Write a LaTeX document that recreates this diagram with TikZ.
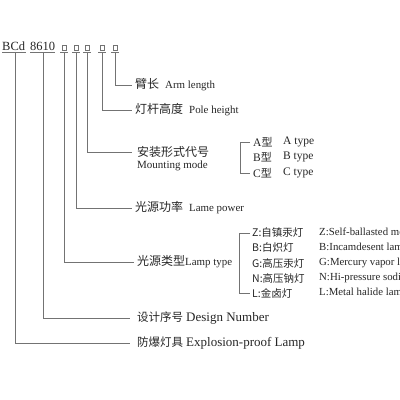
\documentclass[tikz,border=0pt]{standalone}
\usepackage{fontspec}
\setmainfont{Liberation Serif}
\newfontfamily\cjk{Noto Sans CJK SC}
\newcommand{\zh}[2]{{\cjk\fontsize{#1}{#1}\selectfont #2}}
\begin{document}
\begin{tikzpicture}[x=1pt,y=-1pt,
  ln/.style={draw=black!55, line width=0.6pt},
  lbl/.style={anchor=west, inner sep=0pt, text=black!85, font=\fontsize{10.9}{12}\selectfont},
  sq/.style={draw=black!55, line width=0.5pt, minimum size=4.5pt, inner sep=0pt}]
\useasboundingbox (0,0) rectangle (400,400);
\clip (0,0) rectangle (400,400);
% header
\node[anchor=base west, inner sep=0pt, text=black!85, font=\fontsize{12.5}{14}\selectfont] (bcd) at (2,50) {BCd};
\node[anchor=base west, inner sep=0pt, text=black!85, font=\fontsize{12.5}{14}\selectfont] (num) at (30,50) {8610};
\draw[ln] (2,52.5) -- (26,52.5);
\draw[ln] (30,52.5) -- (55,52.5);
\foreach \n/\x in {s1/64,s2/76,s3/87,s4/102,s5/115}{
  \node[sq] (\n) at (\x,47.5) {};
  \draw[ln] (\x-4,52.5) -- (\x+4,52.5);
  \coordinate (\n b) at (\x,52.5);
}
\coordinate (bcdb) at (15,52.5);
\coordinate (numb) at (43,52.5);
% labels
\node[lbl] (arm) at (135,85) {\zh{12}{臂长}\hspace{6pt}Arm length};
\node[lbl] (pole) at (135,110) {\zh{12}{灯杆高度}\hspace{6pt}Pole height};
\node[lbl] (mount) at (137,152) {\zh{12}{安装形式代号}};
\node[lbl, font=\fontsize{11}{12}\selectfont] (mounten) at (137,166) {Mounting mode};
\node[lbl] (power) at (135,208) {\zh{12}{光源功率}\hspace{6pt}Lame power};
\node[lbl] (ltype) at (137,262) {\zh{12}{光源类型}Lamp type};
\node[lbl, font=\fontsize{13}{14}\selectfont] (design) at (137,318) {\zh{11.5}{设计序号}\hspace{3pt}Design Number};
\node[lbl, font=\fontsize{13}{14}\selectfont] (proof) at (137,343) {\zh{11.5}{防爆灯具}\hspace{3pt}Explosion-proof Lamp};
% connectors
\draw[ln] (s5b) |- ([xshift=-3pt]arm.west);
\draw[ln] (s4b) |- ([xshift=-3pt]pole.west);
\draw[ln] (s3b) |- ([xshift=-5pt]mount.west);
\draw[ln] (s2b) |- ([xshift=-3pt]power.west);
\draw[ln] (s1b) |- ([xshift=-3pt]ltype.west);
\draw[ln] (numb) |- ([xshift=-7pt]design.west);
\draw[ln] (bcdb) |- ([xshift=-7pt]proof.west);
% mounting types
\node[lbl, font=\fontsize{11.5}{12}\selectfont] (ta) at (253,142) {A\zh{11}{型}};
\node[lbl, font=\fontsize{11.5}{12}\selectfont] (tb) at (253,157) {B\zh{11}{型}};
\node[lbl, font=\fontsize{11.5}{12}\selectfont] (tc) at (253,173) {C\zh{11}{型}};
\node[lbl, font=\fontsize{11.5}{12}\selectfont] (tae) at (283,142) {A type};
\node[lbl, font=\fontsize{11.5}{12}\selectfont] (tbe) at (283,157) {B type};
\node[lbl, font=\fontsize{11.5}{12}\selectfont] (tce) at (283,173) {C type};
\draw[ln] ([xshift=-3pt]ta.west) -- ++(-10,0) |- ([xshift=-3pt]tc.west);
% lamp types
\node[lbl] (lz) at (252,233) {\zh{10.5}{Z:自镇汞灯}};
\node[lbl] (lb) at (252,248) {\zh{10.5}{B:白炽灯}};
\node[lbl] (lg) at (252,263) {\zh{10.5}{G:高压汞灯}};
\node[lbl] (ln) at (252,278) {\zh{10.5}{N:高压钠灯}};
\node[lbl] (ll) at (252,293) {\zh{10.5}{L:金卤灯}};
\node[lbl, font=\fontsize{10.8}{11}\selectfont] (lze) at (319,233) {Z:Self-ballasted mercury lamp};
\node[lbl, font=\fontsize{10.8}{11}\selectfont] (lbe) at (319,248) {B:Incamdesent lamp};
\node[lbl, font=\fontsize{10.8}{11}\selectfont] (lge) at (319,263) {G:Mercury vapor lamp};
\node[lbl, font=\fontsize{10.8}{11}\selectfont] (lne) at (319,278) {N:Hi-pressure sodium lamp};
\node[lbl, font=\fontsize{10.8}{11}\selectfont] (lle) at (319,293) {L:Metal halide lamp};
\draw[ln] ([xshift=-2pt]lz.west) -- ++(-11,0) |- ([xshift=-2pt]ll.west);
\end{tikzpicture}
\end{document}
